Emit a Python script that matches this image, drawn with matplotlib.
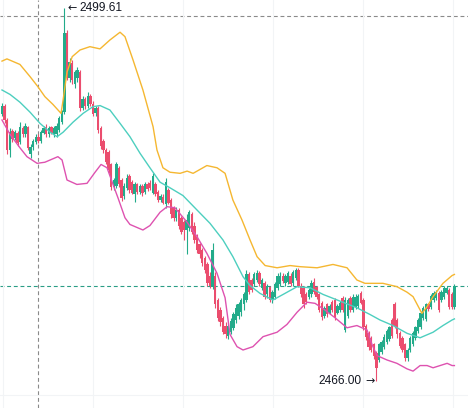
import numpy as np
import matplotlib.pyplot as plt

# OHLC values (one entry per candle)
opens = [2490.0, 2490.8, 2489.5, 2486.8, 2488.5, 2487.9, 2488.3, 2487.5, 2488.8, 2488.2,
         2488.9, 2486.4, 2487.1, 2487.5, 2488.0, 2487.6, 2488.3, 2488.9, 2488.2, 2488.9,
         2488.2, 2488.2, 2488.6, 2489.3, 2490.2, 2497.3, 2493.3, 2494.6, 2492.7, 2493.3,
         2493.8, 2490.6, 2491.4, 2490.8, 2491.7, 2490.9, 2490.1, 2490.6, 2488.8, 2487.6,
         2486.8, 2486.6, 2485.5, 2483.5, 2483.6, 2485.2, 2484.1, 2482.7, 2483.4, 2484.5,
         2483.9, 2482.8, 2483.7, 2483.0, 2483.6, 2483.0, 2483.7, 2483.8, 2482.9, 2483.7,
         2483.0, 2482.3, 2482.6, 2481.9, 2483.2, 2482.3, 2481.6, 2480.7, 2481.4, 2480.7,
         2480.3, 2479.6, 2479.8, 2481.0, 2480.0, 2479.0, 2478.3, 2477.8, 2477.1, 2476.5,
         2475.5, 2474.5, 2475.5, 2473.3, 2472.4, 2471.7, 2471.0, 2470.1, 2470.4, 2470.8,
         2471.5, 2471.9, 2472.2, 2472.9, 2473.3, 2475.6, 2475.1, 2474.7, 2475.1, 2475.7,
         2474.4, 2474.8, 2473.8, 2474.5, 2473.3, 2473.6, 2474.4, 2474.7, 2475.5, 2474.8,
         2474.9, 2475.5, 2474.8, 2475.3, 2476.0, 2474.6, 2474.4, 2473.8, 2473.6, 2473.8,
         2474.9, 2474.5, 2473.8, 2473.0, 2471.9, 2472.9, 2472.1, 2473.1, 2473.3, 2472.1,
         2472.4, 2473.5, 2470.6, 2471.9, 2473.5, 2472.4, 2472.7, 2472.8, 2473.9, 2473.3,
         2471.0, 2470.3, 2469.9, 2469.3, 2468.5, 2467.9, 2468.6, 2469.1, 2469.5, 2469.8,
         2471.5, 2472.9, 2471.5, 2470.3, 2469.9, 2469.3, 2468.1, 2468.8, 2469.3, 2469.9,
         2470.5, 2470.9, 2471.7, 2471.6, 2472.9, 2472.7, 2473.3, 2473.5, 2473.9, 2473.3,
         2473.6, 2473.9, 2474.2, 2473.8, 2472.7]
closes = [2490.8, 2489.5, 2486.8, 2488.4, 2487.8, 2488.4, 2487.4, 2488.9, 2488.2, 2489.0,
          2487.0, 2487.1, 2487.6, 2488.0, 2487.6, 2488.4, 2488.8, 2488.2, 2488.8, 2488.3,
          2488.8, 2489.0, 2489.7, 2490.2, 2497.3, 2493.3, 2494.7, 2493.1, 2493.8, 2494.0,
          2490.6, 2491.4, 2490.8, 2491.7, 2490.9, 2490.0, 2490.6, 2488.6, 2487.2, 2486.8,
          2485.7, 2485.0, 2483.5, 2484.1, 2485.5, 2483.7, 2482.5, 2483.6, 2484.3, 2483.2,
          2482.9, 2483.7, 2483.0, 2483.6, 2482.9, 2483.7, 2483.3, 2483.4, 2484.5, 2482.8,
          2482.3, 2482.7, 2482.0, 2483.9, 2482.0, 2481.0, 2480.7, 2481.4, 2480.0, 2479.4,
          2479.6, 2480.5, 2481.2, 2479.4, 2478.7, 2477.8, 2477.4, 2476.6, 2476.0, 2474.8,
          2474.6, 2477.8, 2472.9, 2471.7, 2471.3, 2470.4, 2470.2, 2471.0, 2471.4, 2472.0,
          2472.6, 2472.9, 2473.3, 2473.8, 2475.6, 2474.0, 2474.2, 2475.6, 2475.7, 2474.7,
          2475.1, 2473.6, 2474.6, 2473.3, 2474.0, 2474.7, 2475.5, 2475.5, 2475.0, 2475.5,
          2475.7, 2474.7, 2475.8, 2476.0, 2474.6, 2473.8, 2472.9, 2473.1, 2474.2, 2474.8,
          2474.0, 2473.6, 2472.4, 2471.8, 2472.6, 2472.0, 2472.8, 2472.4, 2471.8, 2472.8,
          2473.0, 2472.4, 2473.3, 2473.3, 2472.4, 2473.6, 2473.6, 2473.7, 2473.0, 2470.9,
          2470.0, 2469.1, 2468.8, 2468.3, 2467.2, 2469.3, 2469.5, 2470.0, 2470.5, 2470.9,
          2470.1, 2471.0, 2470.2, 2469.2, 2468.8, 2468.1, 2468.8, 2469.9, 2470.3, 2470.9,
          2471.5, 2472.1, 2472.6, 2472.9, 2472.5, 2473.7, 2473.9, 2474.0, 2472.4, 2474.0,
          2474.4, 2474.4, 2472.7, 2472.7, 2474.6]
highs = [2491.0, 2490.9, 2489.7, 2488.8, 2488.7, 2488.6, 2488.5, 2489.3, 2489.0, 2489.2,
         2489.0, 2487.3, 2487.8, 2488.2, 2488.2, 2488.6, 2489.0, 2489.1, 2489.0, 2489.0,
         2489.0, 2489.2, 2489.9, 2490.4, 2499.61, 2497.6, 2495.1, 2494.9, 2494.0, 2494.3,
         2494.0, 2491.7, 2491.6, 2492.0, 2491.8, 2491.2, 2490.8, 2490.8, 2489.0, 2487.8,
         2487.0, 2486.8, 2485.6, 2484.3, 2485.7, 2485.4, 2484.3, 2483.8, 2484.6, 2484.6,
         2484.1, 2483.9, 2483.8, 2483.7, 2483.7, 2483.9, 2483.9, 2484.1, 2484.7, 2483.9,
         2483.2, 2482.8, 2482.8, 2484.3, 2483.4, 2482.5, 2481.8, 2481.7, 2481.6, 2480.9,
         2480.5, 2481.0, 2481.4, 2481.2, 2480.3, 2479.2, 2478.4, 2478.0, 2477.3, 2476.7,
         2475.8, 2478.4, 2475.8, 2473.5, 2472.7, 2471.9, 2471.3, 2471.2, 2471.7, 2472.2,
         2472.9, 2473.1, 2473.5, 2474.0, 2476.0, 2475.8, 2475.3, 2475.8, 2476.0, 2475.9,
         2475.3, 2475.0, 2474.7, 2474.6, 2474.2, 2474.9, 2475.7, 2475.8, 2475.7, 2475.6,
         2475.9, 2475.7, 2476.0, 2476.2, 2476.2, 2474.8, 2474.6, 2474.0, 2474.4, 2475.1,
         2475.3, 2474.6, 2473.9, 2473.2, 2472.8, 2473.0, 2472.9, 2473.3, 2473.5, 2472.9,
         2473.2, 2473.7, 2473.6, 2473.5, 2473.7, 2473.8, 2473.8, 2473.8, 2474.1, 2473.5,
         2471.1, 2470.5, 2470.1, 2469.4, 2468.7, 2469.4, 2469.7, 2470.2, 2470.7, 2471.0,
         2471.7, 2473.1, 2471.7, 2470.5, 2470.1, 2469.4, 2469.0, 2470.1, 2470.5, 2471.0,
         2471.7, 2472.3, 2472.8, 2473.0, 2473.0, 2473.8, 2474.1, 2474.2, 2474.1, 2474.2,
         2474.6, 2474.6, 2474.4, 2474.0, 2474.7]
lows = [2489.9, 2489.2, 2486.4, 2486.2, 2487.5, 2487.7, 2487.2, 2487.3, 2488.0, 2488.0,
        2486.8, 2486.1, 2486.8, 2487.3, 2487.4, 2487.4, 2488.2, 2488.0, 2488.0, 2488.2,
        2488.0, 2488.0, 2488.4, 2489.1, 2490.0, 2493.1, 2492.9, 2492.7, 2492.4, 2492.9,
        2490.3, 2490.4, 2490.5, 2490.6, 2490.8, 2489.9, 2489.9, 2488.3, 2486.9, 2486.5,
        2485.5, 2484.7, 2483.2, 2483.2, 2483.4, 2483.5, 2482.2, 2482.4, 2483.2, 2482.9,
        2482.8, 2482.1, 2482.8, 2482.8, 2482.7, 2482.8, 2483.1, 2483.2, 2482.8, 2482.7,
        2482.1, 2482.1, 2481.9, 2481.6, 2481.9, 2480.7, 2480.4, 2480.4, 2479.7, 2479.2,
        2478.7, 2477.4, 2479.5, 2479.2, 2478.4, 2477.5, 2477.1, 2476.4, 2475.7, 2474.6,
        2474.4, 2474.3, 2472.6, 2471.4, 2471.0, 2470.2, 2469.9, 2469.8, 2470.2, 2470.6,
        2471.2, 2471.6, 2471.9, 2472.4, 2473.1, 2473.8, 2474.0, 2474.6, 2474.9, 2474.6,
        2474.2, 2473.4, 2473.5, 2473.1, 2473.0, 2473.4, 2474.2, 2474.6, 2474.8, 2474.6,
        2474.7, 2474.6, 2474.6, 2475.1, 2474.5, 2473.6, 2472.6, 2472.9, 2473.4, 2473.6,
        2473.8, 2473.4, 2472.2, 2471.5, 2471.7, 2471.8, 2472.0, 2472.2, 2471.5, 2472.0,
        2472.2, 2472.2, 2470.4, 2471.7, 2472.2, 2472.2, 2472.5, 2472.6, 2472.9, 2470.6,
        2469.7, 2468.8, 2468.6, 2468.0, 2466.00, 2467.7, 2468.4, 2468.9, 2469.3, 2469.6,
        2469.9, 2470.8, 2469.9, 2469.0, 2468.6, 2467.8, 2467.8, 2468.6, 2469.2, 2469.7,
        2470.3, 2470.7, 2471.5, 2471.4, 2472.3, 2472.5, 2473.1, 2473.3, 2472.2, 2473.1,
        2473.4, 2473.8, 2472.5, 2472.5, 2472.5]

# Bollinger bands, read at selected candle positions
upper_idx = [0, 1.9, 6.9, 10.8, 13.8, 16.5, 19.6, 22.7, 23.5, 25, 27, 30, 33.8, 37.7,
             41.5, 45.4, 47.3, 50.4, 54.2, 58.1, 59.6, 61.9, 64.6, 68.5, 71.2, 73.5,
             78.8, 82.7, 85.8, 88.8, 92.3, 95.4, 98.1, 101.2, 105.8, 110.8, 114.6,
             121.2, 127.3, 132.7, 136.5, 139.6, 146.5, 151.9, 155.8, 158.1, 161.5,
             163.5, 165.8, 169.6, 173.1, 174]
upper_val = [2494.8, 2495.0, 2494.5, 2493.4, 2492.5, 2491.6, 2490.9, 2490.1, 2491.3,
             2493.8, 2495.2, 2495.8, 2496.1, 2495.9, 2496.7, 2497.4, 2497.0, 2494.9,
             2492.2, 2488.9, 2486.8, 2485.2, 2484.8, 2484.7, 2484.9, 2484.7, 2485.4,
             2485.2, 2484.7, 2482.3, 2480.5, 2478.7, 2477.2, 2476.4, 2476.2, 2476.4,
             2476.3, 2476.2, 2476.5, 2476.2, 2475.1, 2474.8, 2474.8, 2474.5, 2474.0,
             2473.6, 2472.1, 2472.7, 2473.6, 2474.8, 2475.5, 2475.6]
mid_idx = [0, 3.1, 6.9, 10.8, 14.6, 18.5, 21.2, 23.5, 27.3, 31.2, 35, 37.7, 41.5, 45.4,
           49.2, 53.1, 56.9, 60.8, 64.6, 69.6, 75, 80, 85, 88.8, 92.7, 95.4, 99.2,
           104.2, 108.1, 113.5, 118.5, 123.5, 130, 136.5, 141.5, 145.4, 150.4, 155.8,
           160.8, 165.8, 169.6, 173.1, 174]
mid_val = [2492.2, 2491.8, 2491.1, 2490.2, 2489.2, 2488.4, 2488.0, 2488.4, 2489.3,
           2490.1, 2490.7, 2490.8, 2490.4, 2489.2, 2488.0, 2486.5, 2485.2, 2483.9,
           2483.4, 2482.7, 2481.4, 2480.2, 2478.7, 2477.2, 2475.4, 2474.6, 2473.9,
           2473.3, 2473.8, 2474.5, 2474.4, 2473.8, 2473.2, 2472.6, 2472.0, 2471.5,
           2471.0, 2470.3, 2469.9, 2470.4, 2471.0, 2471.5, 2471.6]
lower_idx = [0, 3.1, 6.9, 9.6, 13.5, 16.5, 21.5, 23.1, 25, 28.8, 32.7, 35.8, 38.1, 40.4,
             42.7, 44.6, 47.3, 49.2, 54.2, 56.9, 60.8, 63.5, 66.5, 71.2, 75, 78.8,
             82.7, 85.8, 87.7, 90.4, 92.7, 96.5, 100.4, 105.8, 109.6, 113.5, 117.3,
             120.4, 124.2, 128.1, 132.7, 136.5, 140.4, 142.3, 144.2, 148.1, 151.9,
             155.8, 158.1, 160.8, 163.5, 165.8, 168.5, 171.2, 173.1, 174]
lower_val = [2489.5, 2488.2, 2487.0, 2486.2, 2485.6, 2485.7, 2486.2, 2485.9, 2484.1,
             2483.7, 2483.8, 2484.8, 2485.5, 2485.2, 2483.7, 2482.5, 2480.7, 2480.1,
             2479.6, 2480.0, 2481.2, 2481.7, 2481.6, 2480.3, 2479.0, 2477.5, 2475.7,
             2473.5, 2470.2, 2469.1, 2468.8, 2469.1, 2470.0, 2470.4, 2471.1, 2472.2,
             2473.1, 2473.0, 2472.4, 2471.7, 2470.8, 2471.0, 2470.6, 2469.3, 2468.3,
             2467.9, 2467.6, 2467.1, 2466.9, 2467.4, 2467.4, 2467.2, 2467.4, 2467.6,
             2467.4, 2467.4]

high_label = '2499.61'
low_label = '2466.00'
cross_x = 13.85
cross_y = 2498.86

up_col = '#22ab8a'
down_col = '#eb4d6e'
txt_col = '#131722'

fig = plt.figure(figsize=(4.68, 4.08), dpi=100)
ax = fig.add_axes([0, 0, 1, 1])

x = np.arange(len(closes))
o = np.array(opens)
c = np.array(closes)
colors = np.where(c >= o, up_col, down_col)

# wicks + bodies
ax.vlines(x, lows, highs, colors=colors, linewidth=0.8, zorder=2)
body = np.abs(c - o)
body = np.where(body < 0.08, 0.08, body)
ax.bar(x, body, bottom=np.minimum(o, c), width=0.85, color=colors,
       linewidth=0, zorder=3)

# bands
ax.plot(upper_idx, upper_val, color='#f5b731', lw=1.0, zorder=4)
ax.plot(mid_idx, mid_val, color='#4dcfbf', lw=1.0, zorder=4)
ax.plot(lower_idx, lower_val, color='#de52b0', lw=1.0, zorder=4)

# last price line and crosshair
ax.axhline(closes[-1], color='#2a9d85', lw=0.8, ls=(0, (3.5, 2.5)), zorder=1)
ax.axhline(cross_y, color='#8a8a8a', lw=0.8, ls=(0, (3.5, 2.5)), zorder=1)
ax.axvline(cross_x, color='#8a8a8a', lw=0.8, ls=(0, (3.5, 2.5)), zorder=1)

# max / min labels (arrow drawn separately so it keeps a full-size glyph)
fnt = ['Liberation Sans', 'DejaVu Sans']
ax.text(25.0, max(highs), '\u2190', ha='left', va='center', fontsize=8.0,
        color=txt_col, family='DejaVu Sans', zorder=5)
ax.text(29.9, max(highs), high_label, ha='left', va='center', fontsize=8.6,
        color=txt_col, family=fnt, zorder=5)
ax.text(143.2, min(lows), '\u2192', ha='right', va='center', fontsize=8.0,
        color=txt_col, family='DejaVu Sans', zorder=5)
ax.text(138.3, min(lows), low_label, ha='right', va='center', fontsize=8.6,
        color=txt_col, family=fnt, zorder=5)

ax.set_xlim(-0.77, 179.23)
ax.set_ylim(2463.58, 2500.3)
ax.set_xticks([0.4, 35.0, 69.6, 104.2, 138.8, 173.5])
ax.set_yticks([2464.75])
ax.grid(color='#f2f4f6', lw=0.8, zorder=0)
ax.tick_params(length=0, labelbottom=False, labelleft=False)
for s in ax.spines.values():
    s.set_visible(False)

fig.savefig('out.png', dpi=100)
